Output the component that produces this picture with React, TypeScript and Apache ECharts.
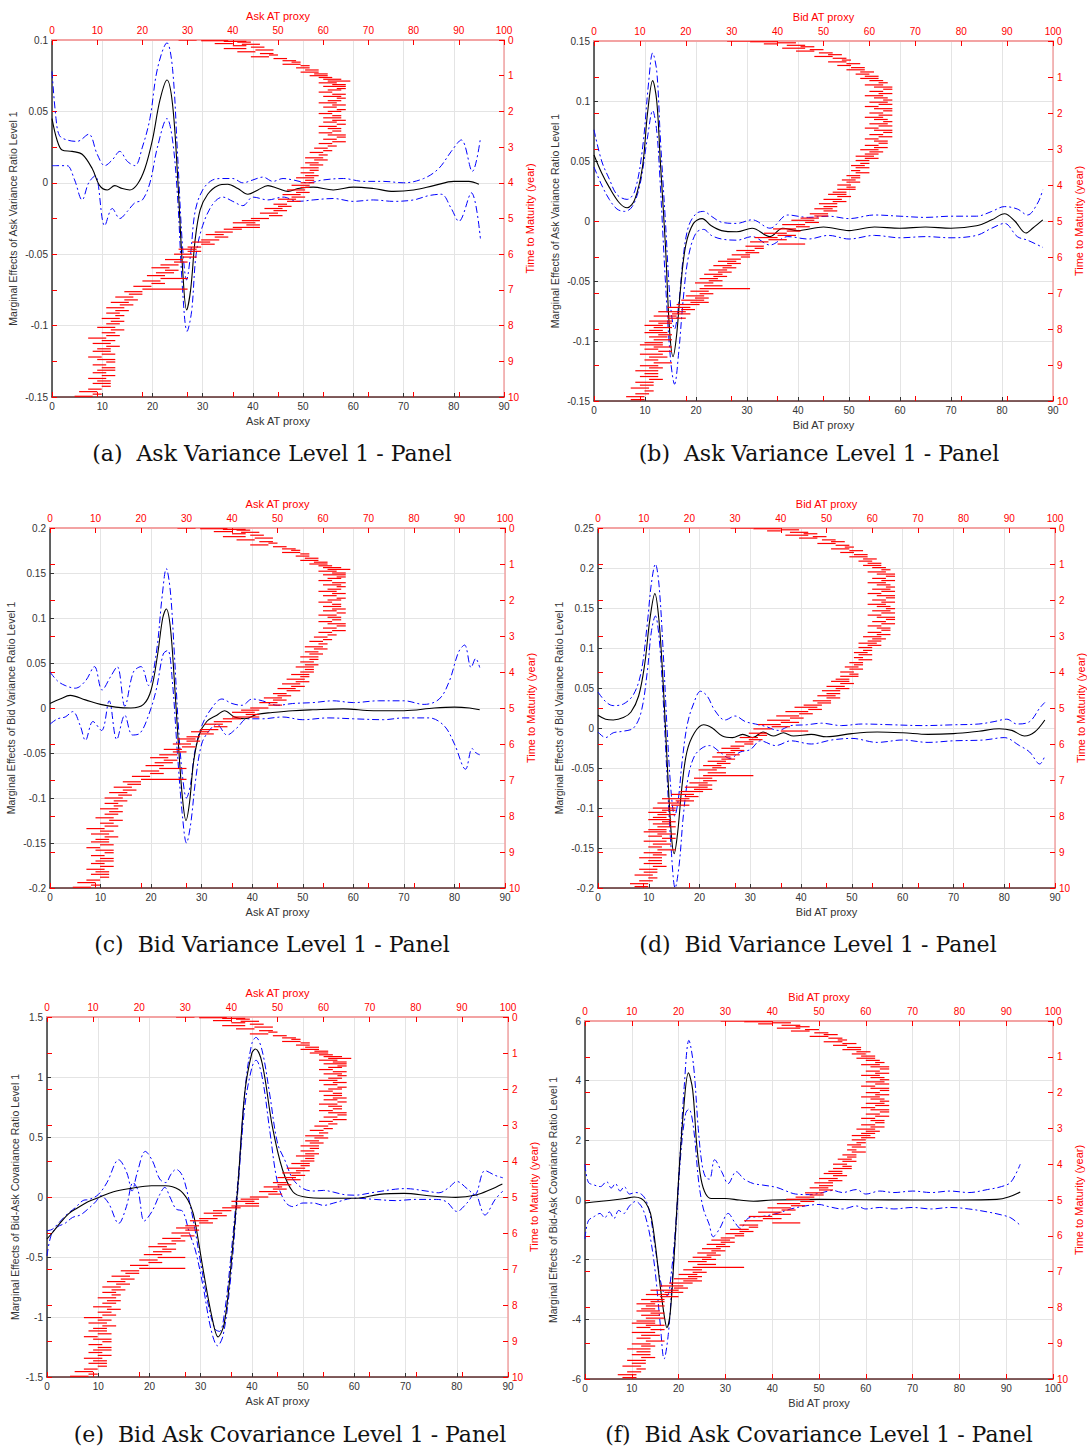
import React, { useEffect, useRef } from 'react';
import * as echarts from 'echarts';

// ---------- red scatter: [AT proxy start, time to maturity, dash length] ----------
const ASK_DASHES = [
[28,0,4],[33,0.02,6],[38,0.04,5],[41,0.06,3],[36,0.1,4],[42,0.12,4],[40,0.16,3],[44,0.2,3],[38,0.24,5],[45,0.28,4],[41,0.33,4],[46,0.38,3],[48,0.42,2],[44,0.47,4],[49,0.52,3],[51,0.58,3],[53,0.62,2],[51,0.68,4],[55,0.72,2],[54,0.78,3],[56,0.84,3],[55,0.9,4],[58,0.95,3],[57,1.0,4],[59,1.05,3],[60,1.1,4],[61,1.15,5],[59,1.2,4],[62,1.25,3],[60,1.3,5],[63,1.36,2],[61,1.4,3],[59,1.46,3],[62,1.52,3],[60,1.58,4],[63,1.63,2],[61,1.7,3],[59,1.76,4],[62,1.82,3],[60,1.88,3],[63,1.95,2],[61,2.0,3],[59,2.06,3],[62,2.12,2],[60,2.18,4],[62,2.25,3],[60,2.3,3],[63,2.36,2],[59,2.42,4],[61,2.48,3],[62,2.55,2],[59,2.6,3],[61,2.66,4],[63,2.72,2],[60,2.78,3],[62,2.85,3],[59,2.9,3],[61,2.97,2],[58,3.03,3],[60,3.1,2],[57,3.15,3],[59,3.22,2],[56,3.3,4],[58,3.36,3],[56,3.44,3],[57,3.5,3],[55,3.58,4],[57,3.65,2],[55,3.72,3],[56,3.8,3],[54,3.86,4],[56,3.93,2],[55,4.0,3],[53,4.07,4],[55,4.13,2],[52,4.2,4],[54,4.27,3],[51,4.33,4],[53,4.4,3],[50,4.46,4],[52,4.52,3],[49,4.6,3],[50,4.66,3],[47,4.72,4],[49,4.78,3],[46,4.85,4],[48,4.92,3],[44,5.0,4],[42,5.06,4],[40,5.12,5],[43,5.18,3],[40,5.25,6],[38,5.3,4],[36,5.38,4],[34,5.45,4],[36,5.52,3],[33,5.6,4],[31,5.66,4],[33,5.72,3],[30,5.8,3],[28,5.86,4],[30,5.92,3],[27,6.0,4],[29,6.08,3],[25,6.15,4],[27,6.22,3],[24,6.3,4],[22,6.38,4],[25,6.45,3],[23,6.52,4],[21,6.6,4],[24,6.68,6],[20,6.75,4],[22,6.82,3],[18,6.9,4],[20,6.98,10],[16,7.05,4],[17,7.12,3],[14,7.2,4],[16,7.28,3],[13,7.35,4],[15,7.42,3],[12,7.5,4],[14,7.58,3],[12,7.65,3],[14,7.72,2],[11,7.8,4],[13,7.88,3],[12,7.95,3],[10,8.05,4],[13,8.12,3],[11,8.2,3],[12,8.28,3],[8,8.35,4],[11,8.42,3],[9,8.5,4],[12,8.58,3],[10,8.65,3],[9,8.72,4],[11,8.8,3],[8,8.88,3],[10,8.95,4],[12,9.02,2],[9,9.1,3],[11,9.18,3],[10,9.25,4],[9,9.32,3],[11,9.4,3],[8,9.48,4],[10,9.55,3],[9,9.62,4],[11,9.7,2],[8,9.78,3],[6,9.85,4],[9,9.92,2],[5,9.98,4]
];

const BID_DASHES = [
[29,0,5],[34,0.02,6],[40,0.05,4],[37,0.08,3],[42,0.12,4],[45,0.16,3],[41,0.2,5],[47,0.24,3],[44,0.28,4],[49,0.33,3],[51,0.38,3],[48,0.43,4],[52,0.48,3],[54,0.53,2],[51,0.58,4],[55,0.63,3],[53,0.68,3],[56,0.74,3],[55,0.8,4],[58,0.86,3],[57,0.92,3],[59,0.98,3],[58,1.04,4],[60,1.1,3],[62,1.16,2],[59,1.22,4],[61,1.28,4],[63,1.34,2],[60,1.4,3],[62,1.46,3],[59,1.52,4],[61,1.58,3],[63,1.64,2],[60,1.7,4],[62,1.76,3],[59,1.82,3],[61,1.88,4],[63,1.94,2],[60,2.0,3],[62,2.06,3],[59,2.12,4],[61,2.18,3],[63,2.24,2],[60,2.3,4],[62,2.36,3],[59,2.42,3],[61,2.48,4],[63,2.54,2],[60,2.6,3],[62,2.66,3],[59,2.72,3],[61,2.78,3],[62,2.84,2],[59,2.9,3],[61,2.96,3],[58,3.02,4],[60,3.08,3],[59,3.14,3],[57,3.2,4],[59,3.26,3],[57,3.32,3],[58,3.4,2],[56,3.46,3],[57,3.52,3],[56,3.6,2],[57,3.66,3],[55,3.74,3],[56,3.8,2],[54,3.86,3],[55,3.92,3],[53,4.0,3],[55,4.06,2],[53,4.12,4],[52,4.2,3],[51,4.26,4],[53,4.32,3],[50,4.4,4],[52,4.46,3],[49,4.52,4],[50,4.6,3],[48,4.66,4],[50,4.72,3],[47,4.8,4],[48,4.86,3],[45,4.92,4],[43,4.98,5],[46,5.04,3],[41,5.1,5],[44,5.16,3],[39,5.22,5],[42,5.28,3],[37,5.34,5],[40,5.4,4],[35,5.46,5],[38,5.52,4],[34,5.58,4],[40,5.64,6],[33,5.7,4],[35,5.76,2],[31,5.82,4],[33,5.88,3],[30,5.94,4],[32,6.0,2],[29,6.06,3],[27,6.12,4],[29,6.18,3],[26,6.24,4],[28,6.3,3],[25,6.36,4],[27,6.42,3],[24,6.48,4],[26,6.54,3],[23,6.6,4],[25,6.66,3],[22,6.72,4],[24,6.8,4],[23,6.88,11],[21,6.95,4],[23,7.02,3],[20,7.08,4],[22,7.14,3],[19,7.2,5],[21,7.26,4],[18,7.32,5],[16,7.4,5],[19,7.46,3],[14,7.52,6],[17,7.58,4],[13,7.64,5],[16,7.7,4],[12,7.78,5],[14,7.84,3],[11,7.9,4],[13,7.96,4],[12,8.04,3],[11,8.1,5],[14,8.16,3],[12,8.22,4],[13,8.3,4],[11,8.38,4],[10,8.44,5],[13,8.5,4],[11,8.56,3],[14,8.62,3],[10,8.7,5],[12,8.78,4],[11,8.86,3],[13,8.94,4],[10,9.02,4],[12,9.08,3],[9,9.16,5],[11,9.24,3],[10,9.32,4],[12,9.4,3],[9,9.48,4],[10,9.56,3],[8,9.64,4],[11,9.72,2],[9,9.8,3],[7,9.88,4],[8,9.96,3]
];

// ---------- marginal effects: mean, upper, lower ----------
const A_MEAN = [[0,0.045],[1,0.03],[2,0.023],[4,0.022],[6,0.02],[8,0.01],[9.5,-0.002],[11,-0.005],[12.5,-0.002],[14,-0.004],[15.5,-0.005],[17,-0.001],[18.5,0.01],[20,0.03],[21.5,0.058],[22.9,0.072],[24,0.055],[25,0.005],[26,-0.06],[26.8,-0.089],[27.6,-0.075],[28.5,-0.04],[29.5,-0.019],[31,-0.008],[33,-0.002],[35,-0.001],[37,-0.004],[39,-0.008],[41,-0.005],[43,-0.002],[45,-0.004],[47,-0.006],[49,-0.004],[52,-0.003],[56,-0.005],[60,-0.003],[64,-0.004],[68,-0.006],[72,-0.005],[76,-0.002],[80,0.001],[83,0.001],[85,-0.001]];
const A_UP = [[0,0.078],[0.8,0.045],[1.5,0.033],[3,0.03],[5,0.029],[7.3,0.034],[9,0.02],[10.5,0.012],[12,0.016],[13.5,0.022],[15,0.015],[16.5,0.012],[18,0.025],[19.5,0.045],[21,0.08],[22.9,0.098],[24,0.08],[25,0.02],[26,-0.045],[26.8,-0.068],[27.6,-0.05],[28.5,-0.02],[30,-0.005],[32,0.002],[34,0.003],[36,0.003],[38,0.0],[40,0.002],[42,0.004],[44,0.001],[46,0.003],[48,0.002],[51,0.0],[54,0.002],[58,0.003],[62,0.001],[66,0.001],[70,0.0],[74,0.003],[77,0.01],[79.5,0.022],[81.5,0.03],[83.7,0.008],[85.3,0.031]];
const A_LO = [[0,0.012],[1.5,0.012],[3,0.012],[4.5,0.002],[6,-0.012],[7.3,0.0],[8.6,0.005],[10.5,-0.03],[12,-0.018],[13.5,-0.025],[15,-0.02],[16.5,-0.014],[18,-0.012],[19.5,0.0],[21,0.025],[22.9,0.045],[24,0.03],[25,-0.01],[26,-0.075],[26.9,-0.104],[27.8,-0.09],[28.7,-0.05],[30,-0.03],[32,-0.015],[34,-0.01],[36,-0.013],[38,-0.016],[40,-0.01],[43,-0.012],[46,-0.01],[49,-0.013],[52,-0.012],[56,-0.011],[60,-0.013],[64,-0.012],[68,-0.013],[72,-0.012],[75,-0.009],[77.5,-0.008],[79.5,-0.018],[81,-0.027],[83.5,-0.007],[85.3,-0.039]];

const B_MEAN = [[0,0.055],[1.5,0.04],[3,0.028],[5,0.015],[6.5,0.011],[8,0.018],[9.5,0.045],[10.5,0.09],[11.5,0.117],[12.3,0.1],[13,0.05],[14,-0.02],[14.8,-0.09],[15.5,-0.113],[16.2,-0.095],[17,-0.055],[18,-0.02],[19.5,-0.002],[21.2,0.002],[23,-0.004],[25,-0.008],[28,-0.009],[31,-0.006],[34.5,-0.013],[37,-0.006],[40,-0.008],[45,-0.005],[50,-0.008],[55,-0.005],[60,-0.006],[65,-0.005],[70,-0.006],[75,-0.004],[78,0.001],[80.5,0.006],[82.5,0.0],[84.7,-0.01],[86,-0.006],[88,0.001]];
const B_UP = [[0,0.076],[1.5,0.05],[3,0.035],[4.5,0.022],[6.5,0.018],[8,0.025],[9.5,0.06],[10.7,0.115],[11.5,0.14],[12.3,0.125],[13,0.07],[14,0.0],[15,-0.07],[15.8,-0.09],[16.6,-0.07],[17.5,-0.03],[18.5,-0.005],[20,0.006],[21.5,0.008],[23,0.004],[25,-0.001],[28,-0.002],[31,0.001],[34.5,-0.006],[38,0.005],[42,0.003],[46,0.004],[50,0.002],[55,0.005],[60,0.004],[65,0.003],[70,0.004],[75,0.004],[78,0.008],[80.5,0.012],[83,0.01],[85,0.005],[87,0.015],[88,0.026]];
const B_LO = [[0,0.045],[1.5,0.03],[3,0.018],[4.5,0.01],[6,0.008],[7.5,0.012],[9,0.03],[10.5,0.07],[11.5,0.092],[12.3,0.075],[13,0.03],[14,-0.05],[15,-0.115],[15.8,-0.136],[16.6,-0.11],[17.5,-0.065],[18.5,-0.03],[20,-0.01],[21.5,-0.007],[23,-0.012],[25,-0.015],[28,-0.016],[31,-0.013],[34.5,-0.02],[38,-0.013],[42,-0.015],[46,-0.012],[50,-0.015],[55,-0.012],[60,-0.014],[65,-0.013],[70,-0.014],[75,-0.012],[78,-0.006],[80.5,-0.002],[83,-0.013],[85,-0.016],[88,-0.022]];

const C_MEAN = [[0,0.005],[2,0.01],[4,0.014],[7,0.009],[10,0.004],[13,0.001],[16,0.0],[18.5,0.004],[20,0.02],[21.3,0.06],[22.3,0.1],[23,0.11],[23.8,0.09],[24.6,0.03],[25.4,-0.04],[26.2,-0.1],[26.9,-0.125],[27.6,-0.105],[28.4,-0.06],[29.5,-0.03],[31,-0.015],[33,-0.008],[34.5,-0.003],[36.5,-0.01],[38.5,-0.012],[41,-0.007],[44,-0.005],[48,-0.003],[52,-0.002],[58,-0.001],[64,-0.003],[70,-0.003],[76,0.0],[80,0.001],[83,0.0],[85,-0.002]];
const C_UP = [[0,0.04],[1.5,0.03],[3,0.025],[5,0.022],[7,0.03],[8.8,0.046],[10.3,0.02],[12,0.035],[13.3,0.046],[14.8,0.002],[16.5,0.04],[18,0.046],[19.5,0.025],[21,0.06],[22.2,0.125],[23,0.155],[23.8,0.13],[24.6,0.06],[25.4,-0.02],[26.2,-0.075],[27,-0.1],[27.8,-0.085],[28.6,-0.05],[30,-0.02],[32,0.0],[34,0.01],[36,0.005],[38,0.003],[40,0.01],[42,0.008],[45,0.003],[48,0.005],[52,0.006],[56,0.008],[60,0.006],[65,0.008],[70,0.008],[74,0.004],[77,0.01],[79,0.03],[80.8,0.062],[82,0.07],[83.3,0.045],[84.2,0.055],[85,0.045]];
const C_LO = [[0,-0.018],[1.5,-0.012],[3,-0.01],[4.5,-0.004],[6,-0.02],[7,-0.036],[8.5,-0.015],[10.2,-0.025],[11.7,0.008],[13.2,-0.035],[14.8,-0.008],[16.3,-0.03],[17.8,-0.028],[19.5,-0.008],[21,0.02],[22.4,0.06],[23.3,0.064],[24.2,0.03],[25.2,-0.05],[26.2,-0.12],[27,-0.15],[27.8,-0.13],[28.8,-0.08],[30,-0.04],[31.5,-0.025],[33,-0.018],[35,-0.03],[37,-0.022],[39,-0.012],[42,-0.012],[46,-0.01],[50,-0.013],[55,-0.011],[60,-0.012],[66,-0.013],[70,-0.011],[75,-0.011],[78,-0.02],[80,-0.04],[82.2,-0.068],[83.5,-0.045],[84.3,-0.05],[85,-0.052]];

const D_MEAN = [[0,0.016],[1.5,0.011],[3,0.01],[5,0.013],[6.5,0.02],[8,0.04],[9.2,0.08],[10.2,0.135],[11.2,0.168],[12,0.135],[12.8,0.06],[13.6,-0.04],[14.4,-0.13],[15,-0.157],[15.7,-0.13],[16.5,-0.075],[17.5,-0.03],[19,-0.006],[20.8,0.004],[22.5,0.0],[24.5,-0.01],[26.5,-0.012],[28.5,-0.008],[30.5,-0.012],[32.5,-0.005],[34.5,-0.01],[36.5,-0.006],[38.5,-0.01],[42,-0.008],[45,-0.011],[50,-0.007],[55,-0.005],[60,-0.006],[65,-0.008],[70,-0.007],[75,-0.004],[79,-0.001],[81.5,-0.003],[84,-0.01],[86,-0.005],[88,0.01]];
const D_UP = [[0,0.045],[1.5,0.033],[3,0.028],[5,0.03],[7,0.042],[8.5,0.07],[9.7,0.13],[10.5,0.18],[11.3,0.205],[12,0.18],[12.8,0.1],[13.6,0.0],[14.4,-0.08],[15.1,-0.11],[15.8,-0.09],[16.6,-0.04],[17.6,0.005],[18.8,0.03],[20.2,0.046],[21.5,0.04],[23,0.022],[25,0.01],[27,0.015],[29,0.008],[31,0.005],[33,0.002],[35.5,-0.003],[38,0.003],[41,0.004],[44,0.006],[48,0.003],[52,0.005],[58,0.004],[64,0.003],[70,0.004],[75,0.005],[78,0.008],[80.5,0.011],[82.5,0.005],[85,0.008],[87,0.025],[88,0.032]];
const D_LO = [[0,-0.005],[1.5,-0.012],[3,-0.006],[5,-0.004],[7,0.0],[8.5,0.02],[9.7,0.07],[10.5,0.12],[11.3,0.14],[12,0.115],[12.8,0.04],[13.6,-0.06],[14.4,-0.15],[15.2,-0.2],[16,-0.17],[16.8,-0.11],[17.8,-0.06],[19,-0.035],[20.5,-0.025],[22,-0.022],[24,-0.03],[26,-0.038],[28,-0.03],[30,-0.027],[32,-0.016],[35,-0.022],[38,-0.016],[42,-0.02],[46,-0.015],[50,-0.013],[55,-0.018],[60,-0.015],[65,-0.018],[70,-0.016],[76,-0.015],[80,-0.012],[83,-0.022],[85,-0.03],[87,-0.045],[88,-0.035]];

const E_MEAN = [[0,-0.35],[1,-0.3],[2.5,-0.22],[4.2,-0.14],[6,-0.09],[8,-0.04],[10,-0.006],[13,0.044],[16.4,0.072],[20.4,0.094],[23.1,0.094],[25.8,0.06],[27.5,-0.025],[28.5,-0.13],[29.2,-0.276],[30.5,-0.61],[32.2,-1.0],[33.4,-1.166],[34.6,-1.055],[35.9,-0.58],[37.3,0.114],[38.6,0.865],[40,1.2],[40.7,1.233],[42,1.116],[44,0.587],[46,0.225],[48,0.044],[50.1,0.002],[54.8,-0.011],[60.2,-0.011],[64.9,0.022],[69.7,0.03],[75,0.008],[79.8,-0.003],[83.8,0.017],[86.5,0.06],[88.9,0.108]];
const E_UP = [[0,-0.28],[1,-0.27],[2.2,-0.22],[4,-0.14],[5.5,-0.09],[7,-0.03],[8.3,-0.02],[10,0.02],[11.7,0.12],[14,0.31],[15.6,0.2],[16.6,0.05],[17.6,0.2],[19.2,0.38],[20.6,0.3],[22,0.15],[23.2,0.12],[24.2,0.19],[25.2,0.23],[26.4,0.18],[27.6,0.0],[28.8,-0.25],[30,-0.55],[31.5,-0.9],[32.8,-1.1],[33.7,-1.12],[34.7,-0.95],[36,-0.45],[37.4,0.2],[38.8,0.95],[40,1.28],[40.8,1.33],[42,1.22],[43.5,0.85],[45,0.45],[46.5,0.3],[48,0.15],[50,0.07],[52,0.05],[54,0.055],[56,0.04],[58,0.02],[60,0.015],[64,0.04],[68,0.065],[70,0.07],[74,0.05],[76.5,0.035],[78.5,0.08],[80,0.13],[82,0.07],[83.5,0.02],[85.5,0.22],[87.5,0.18],[89,0.16]];
const E_LO = [[0,-0.49],[0.8,-0.32],[2,-0.25],[3.5,-0.22],[5,-0.17],[6.5,-0.15],[8,-0.1],[9.5,-0.04],[10.5,0.01],[12,-0.05],[14,-0.22],[15.5,-0.08],[16.8,0.12],[17.8,0.05],[19,-0.2],[20.5,-0.12],[22,0.02],[23,0.08],[24,0.0],[25.2,-0.1],[26.5,-0.12],[27.8,-0.3],[29,-0.45],[30.5,-0.75],[32,-1.1],[33.3,-1.24],[34.4,-1.15],[35.8,-0.7],[37.2,0.02],[38.6,0.75],[40,1.08],[40.8,1.14],[42,1.0],[43.5,0.55],[45,0.12],[46.5,-0.04],[48,-0.08],[50,-0.05],[52,-0.05],[54,-0.07],[56,-0.05],[60,-0.01],[64,-0.02],[68,-0.03],[72,-0.02],[76,-0.02],[78,-0.04],[80,-0.12],[82,-0.05],[83.5,0.03],[85.5,-0.15],[87.5,-0.02],[89,0.05]];

const F_MEAN = [[0,-0.1],[3,-0.05],[6,0.0],[8.5,0.05],[10.5,0.1],[12,0.05],[13,-0.1],[14,-0.45],[15,-1.46],[16,-2.8],[17,-3.95],[17.5,-4.28],[18.2,-3.8],[19,-2.0],[19.9,0.45],[21,2.9],[22.1,4.26],[23,3.7],[23.9,1.8],[24.8,0.7],[25.8,0.2],[27,0.05],[30,0.05],[33,0.0],[36,-0.04],[40,0.0],[50,0.02],[60,0.01],[70,0.0],[80,0.0],[88,0.02],[90.5,0.1],[93,0.27]];
const F_UP = [[0,1.2],[0.7,0.6],[2,0.5],[3.3,0.45],[4.6,0.62],[5.6,0.4],[6.5,0.55],[7.5,0.3],[8.4,0.45],[9.5,0.2],[10.8,0.25],[12,0.2],[13,0.0],[14,-0.55],[15,-1.6],[16,-2.6],[16.8,-3.1],[17.6,-3.2],[18.4,-2.5],[19.3,-1.0],[20.2,1.2],[21.2,3.8],[22.2,5.35],[23.2,4.5],[24.2,2.4],[25,1.2],[25.8,0.75],[26.6,0.7],[27.7,1.35],[29.2,0.95],[30.6,0.55],[32.3,0.95],[34,0.7],[36,0.55],[38,0.5],[41,0.42],[43,0.3],[45,0.2],[48,0.18],[50,0.22],[53,0.32],[55,0.25],[58,0.35],[60,0.2],[63,0.3],[66,0.25],[70,0.3],[74,0.25],[78,0.3],[82,0.25],[86,0.35],[89,0.45],[91,0.6],[93,1.2]];
const F_LO = [[0,-1.3],[0.7,-0.7],[2,-0.55],[3.2,-0.45],[4.2,-0.6],[5.2,-0.4],[6.2,-0.62],[7.2,-0.35],[8.3,-0.45],[9.5,-0.2],[10.8,-0.05],[12,-0.2],[13,-0.6],[14,-1.3],[15,-2.4],[16.1,-4.2],[16.9,-5.33],[17.8,-4.5],[18.6,-2.8],[19.5,-0.8],[20.5,1.6],[21.5,2.9],[22.2,3.05],[23.2,2.4],[24.3,0.6],[25.3,-0.3],[26.5,-0.8],[27.4,-1.23],[28.8,-0.95],[30.6,-0.45],[32,-0.75],[33.2,-0.95],[35,-0.6],[38,-0.55],[41,-0.45],[44,-0.3],[47,-0.2],[50,-0.15],[52,-0.22],[55,-0.3],[58,-0.2],[60,-0.3],[63,-0.25],[66,-0.3],[70,-0.25],[74,-0.3],[78,-0.25],[82,-0.3],[86,-0.4],[89,-0.5],[91,-0.6],[93,-0.85]];

// ---------- text ----------
const ASK_PROXY = 'Ask AT proxy';
const BID_PROXY = 'Bid AT proxy';
const MAT_NAME = 'Time to Maturity (year)';
const Y_NAMES = [
  'Marginal Effects of Ask Variance Ratio Level 1',
  'Marginal Effects of Bid Variance Ratio Level 1',
  'Marginal Effects of Bid-Ask Covariance Ratio Level 1',
];
const CAPTIONS = [
  '(a)\u00a0 Ask Variance Level 1 - Panel',
  '(b)\u00a0 Ask Variance Level 1 - Panel',
  '(c)\u00a0 Bid Variance Level 1 - Panel',
  '(d)\u00a0 Bid Variance Level 1 - Panel',
  '(e)\u00a0 Bid Ask Covariance Level 1 - Panel',
  '(f)\u00a0 Bid Ask Covariance Level 1 - Panel',
];

const PANELS = [
  { left: 52, top: 40, w: 452, h: 357, xMax: 90, yMin: -0.15, yMax: 0.1, yInt: 0.05, proxy: ASK_PROXY, yName: Y_NAMES[0], cap: CAPTIONS[0], capX: 272, capY: 453, mean: A_MEAN, up: A_UP, lo: A_LO, red: ASK_DASHES },
  { left: 594, top: 41, w: 459, h: 360, xMax: 90, yMin: -0.15, yMax: 0.15, yInt: 0.05, proxy: BID_PROXY, yName: Y_NAMES[0], cap: CAPTIONS[1], capX: 819, capY: 453, mean: B_MEAN, up: B_UP, lo: B_LO, red: BID_DASHES },
  { left: 50, top: 528, w: 455, h: 360, xMax: 90, yMin: -0.2, yMax: 0.2, yInt: 0.05, proxy: ASK_PROXY, yName: Y_NAMES[1], cap: CAPTIONS[2], capX: 272, capY: 944, mean: C_MEAN, up: C_UP, lo: C_LO, red: ASK_DASHES },
  { left: 598, top: 528, w: 457, h: 360, xMax: 90, yMin: -0.2, yMax: 0.25, yInt: 0.05, proxy: BID_PROXY, yName: Y_NAMES[1], cap: CAPTIONS[3], capX: 818, capY: 944, mean: D_MEAN, up: D_UP, lo: D_LO, red: BID_DASHES },
  { left: 47, top: 1017, w: 461, h: 360, xMax: 90, yMin: -1.5, yMax: 1.5, yInt: 0.5, proxy: ASK_PROXY, yName: Y_NAMES[2], cap: CAPTIONS[4], capX: 290, capY: 1434, mean: E_MEAN, up: E_UP, lo: E_LO, red: ASK_DASHES },
  { left: 585, top: 1021, w: 468, h: 358, xMax: 100, yMin: -6, yMax: 6, yInt: 2, proxy: BID_PROXY, yName: Y_NAMES[2], cap: CAPTIONS[5], capX: 819, capY: 1434, mean: F_MEAN, up: F_UP, lo: F_LO, red: BID_DASHES },
];

const SANS = 'Liberation Sans, Arial, sans-serif';
const RED = '#ff0000';
const GRID_C = '#e4e4e4';

function buildOption() {
  const grid: any[] = [];
  const xAxis: any[] = [];
  const yAxis: any[] = [];
  const series: any[] = [];
  const graphic: any[] = [];

  PANELS.forEach((p, i) => {
    grid.push({ left: p.left, top: p.top, width: p.w, height: p.h, containLabel: false });
    xAxis.push({
      gridIndex: i, type: 'value', position: 'bottom', min: 0, max: p.xMax, interval: 10,
      name: p.proxy, nameLocation: 'middle', nameGap: 18,
      nameTextStyle: { color: '#333', fontSize: 11, fontFamily: SANS },
      axisLine: { show: true, onZero: false, lineStyle: { color: '#5a2a2a', width: 1.5 } },
      axisTick: { show: true, inside: true, length: 4, lineStyle: { color: '#333' } },
      axisLabel: { color: '#333', fontSize: 10, fontFamily: SANS, margin: 4 },
      splitLine: { show: true, lineStyle: { color: GRID_C, width: 1 } },
    });
    xAxis.push({
      gridIndex: i, type: 'value', position: 'top', min: 0, max: 100, interval: 10,
      name: p.proxy, nameLocation: 'middle', nameGap: 19,
      nameTextStyle: { color: RED, fontSize: 11, fontFamily: SANS },
      axisLine: { show: true, onZero: false, lineStyle: { color: '#f3a3a3', width: 2 } },
      axisTick: { show: true, inside: true, length: 5, lineStyle: { color: RED } },
      axisLabel: { color: RED, fontSize: 10, fontFamily: SANS, margin: 5 },
      splitLine: { show: false },
    });
    xAxis.push({
      gridIndex: i, type: 'value', position: 'bottom', min: 0, max: 100, interval: 10,
      axisLine: { show: false, onZero: false },
      axisTick: { show: true, inside: true, length: 5, lineStyle: { color: RED } },
      axisLabel: { show: false },
      splitLine: { show: false },
    });
    yAxis.push({
      gridIndex: i, type: 'value', position: 'left', min: p.yMin, max: p.yMax, interval: p.yInt,
      name: p.yName, nameLocation: 'middle', nameGap: p.yInt < 0.5 ? 34 : 27,
      nameTextStyle: { color: '#333', fontSize: 10.5, fontFamily: SANS },
      axisLine: { show: true, onZero: false, lineStyle: { color: '#333', width: 1.5 } },
      axisTick: { show: true, inside: true, length: 4, lineStyle: { color: '#333' } },
      axisLabel: { color: '#333', fontSize: 10, fontFamily: SANS, margin: 4 },
      splitLine: { show: true, lineStyle: { color: GRID_C, width: 1 } },
    });
    yAxis.push({
      gridIndex: i, type: 'value', position: 'right', min: 0, max: 10, interval: 1, inverse: true,
      name: MAT_NAME, nameLocation: 'middle', nameGap: 20,
      nameTextStyle: { color: RED, fontSize: 11, fontFamily: SANS },
      axisLine: { show: true, onZero: false, lineStyle: { color: '#f3a3a3', width: 1.5 } },
      axisTick: { show: true, inside: true, length: 5, lineStyle: { color: RED } },
      axisLabel: { color: RED, fontSize: 10, fontFamily: SANS, margin: 4 },
      splitLine: { show: false },
    });
    yAxis.push({
      gridIndex: i, type: 'value', position: 'left', min: 0, max: 10, interval: 1, inverse: true,
      axisLine: { show: false, onZero: false },
      axisTick: { show: true, inside: true, length: 5, lineStyle: { color: RED } },
      axisLabel: { show: false },
      splitLine: { show: false },
    });

    const xb = 3 * i, xt = 3 * i + 1, yl = 3 * i, yr = 3 * i + 1;
    const lineBase = { type: 'line', xAxisIndex: xb, yAxisIndex: yl, showSymbol: false, symbol: 'none', smooth: 0.35, clip: true };
    series.push({ ...lineBase, data: p.up, z: 3, lineStyle: { color: '#0000ff', width: 1, type: [7, 3, 2, 3] } });
    series.push({ ...lineBase, data: p.lo, z: 3, lineStyle: { color: '#0000ff', width: 1, type: [7, 3, 2, 3] } });
    series.push({ ...lineBase, data: p.mean, z: 4, lineStyle: { color: '#000000', width: 1.1, type: 'solid' } });
    series.push({
      type: 'custom', xAxisIndex: xt, yAxisIndex: yr, clip: true, z: 5,
      encode: { x: 0, y: 1 },
      data: p.red,
      renderItem: (params: any, api: any) => {
        const x = api.value(0), m = api.value(1), l = api.value(2);
        const a = api.coord([x, m]);
        const b = api.coord([x + l, m]);
        return { type: 'line', shape: { x1: a[0], y1: a[1], x2: b[0], y2: b[1] }, style: { stroke: RED, lineWidth: 1.2 } };
      },
    });

    graphic.push({
      type: 'text', x: p.capX, y: p.capY,
      style: { text: p.cap, font: '22px "DejaVu Serif", "Liberation Serif", serif', fill: '#111', textAlign: 'center', textVerticalAlign: 'middle' },
    });
  });

  return { animation: false, backgroundColor: '#ffffff', grid, xAxis, yAxis, series, graphic };
}

export default function App() {
  const ref = useRef<HTMLDivElement>(null);
  useEffect(() => {
    if (!ref.current) return;
    const chart = echarts.init(ref.current, undefined, { renderer: 'svg' });
    chart.setOption(buildOption());
    return () => chart.dispose();
  }, []);
  return <div ref={ref} style={{ position: 'fixed', left: 0, top: 0, width: 1087, height: 1450, background: '#fff' }} />;
}
